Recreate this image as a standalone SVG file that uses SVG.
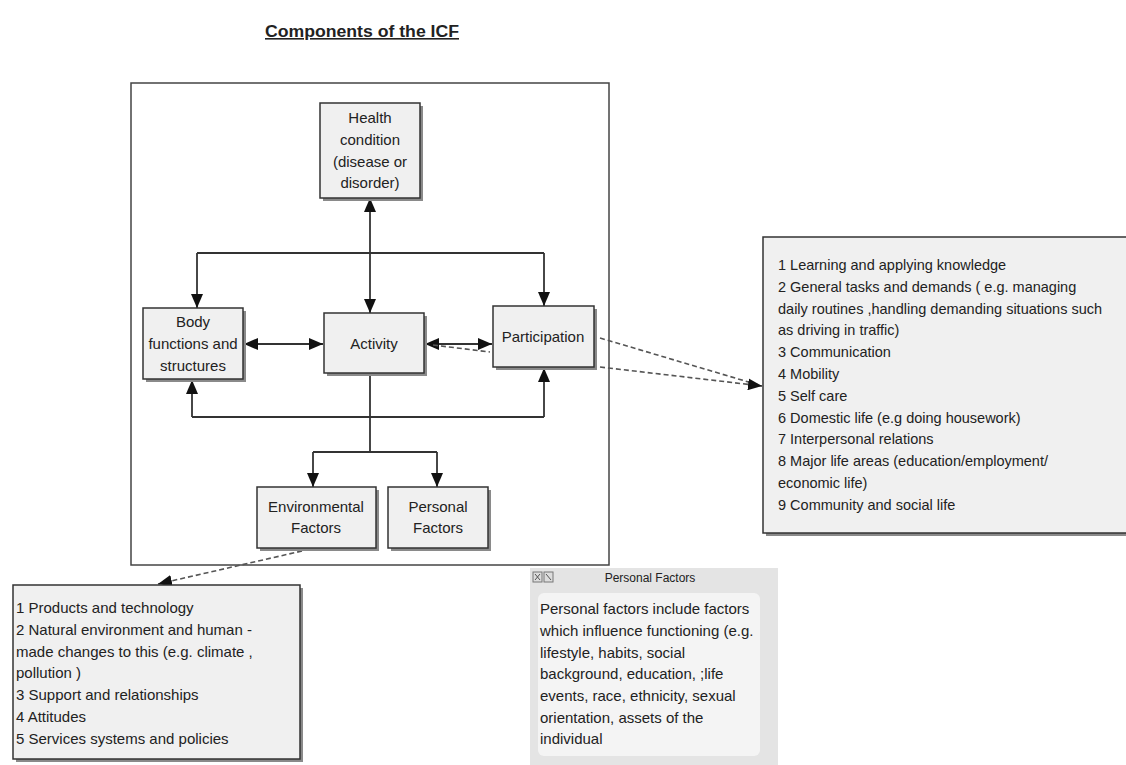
<svg xmlns="http://www.w3.org/2000/svg" width="1126" height="765" viewBox="0 0 1126 765">
<style>
.bx{fill:#f0f0f0;stroke:#333;stroke-width:1.5}
.sh{fill:#8a8a8a}
.t{font-family:"Liberation Sans",Arial,sans-serif;font-size:15px;fill:#222}
.c{text-anchor:middle}
.ln{fill:none;stroke:#333;stroke-width:1.8}
.ds{fill:none;stroke:#555;stroke-width:1.6;stroke-dasharray:5,3}
</style>
<defs>
<marker id="ah" viewBox="0 0 14 12" refX="14" refY="6" markerWidth="14" markerHeight="12" markerUnits="userSpaceOnUse" orient="auto-start-reverse">
<path d="M0,0 L14,6 L0,12 z" fill="#111"/>
</marker>
</defs>
<rect width="1126" height="765" fill="#fff"/>
<text x="362" y="37" class="t c" style="font-weight:bold;font-size:16px;text-decoration:underline" textLength="194" lengthAdjust="spacingAndGlyphs">Components of the ICF</text>
<rect id="frame" x="131" y="83" width="478" height="482" fill="#fff" stroke="#444" stroke-width="1.5"/>
<g id="connectors">
<path class="ln" d="M370,198 L370,313" marker-start="url(#ah)" marker-end="url(#ah)"/>
<path class="ln" d="M197,253 L544,253"/>
<path class="ln" d="M197,253 L197,308" marker-end="url(#ah)"/>
<path class="ln" d="M544,253 L544,306" marker-end="url(#ah)"/>
<path class="ln" d="M244,344 L323,344" marker-start="url(#ah)" marker-end="url(#ah)"/>
<path class="ln" d="M425,344 L492,344" marker-start="url(#ah)" marker-end="url(#ah)"/>
<path class="ds" d="M433,345 L490,352"/>
<path class="ln" d="M192,417 L544,417"/>
<path class="ln" d="M192,417 L192,380" marker-end="url(#ah)"/>
<path class="ln" d="M544,417 L544,368" marker-end="url(#ah)"/>
<path class="ln" d="M370,373 L370,452 M313,452 L437,452"/>
<path class="ln" d="M313,452 L313,487" marker-end="url(#ah)"/>
<path class="ln" d="M437,452 L437,487" marker-end="url(#ah)"/>
<path class="ds" d="M600,338 L762,386"/>
<path class="ds" d="M600,367 L762,386" marker-end="url(#ah)"/>
<path class="ds" d="M302,551 L158,584" marker-end="url(#ah)"/>
</g>
<g id="health">
<rect class="sh" x="323" y="106" width="100" height="95"/>
<rect class="bx" x="320" y="103" width="100" height="95"/>
<text class="t c" x="370" y="123">Health</text>
<text class="t c" x="370" y="145">condition</text>
<text class="t c" x="370" y="167">(disease or</text>
<text class="t c" x="370" y="188">disorder)</text>
</g>
<g id="body">
<rect class="sh" x="146" y="311" width="100" height="71"/>
<rect class="bx" x="143" y="308" width="100" height="71"/>
<text class="t c" x="193" y="327">Body</text>
<text class="t c" x="193" y="349">functions and</text>
<text class="t c" x="193" y="371">structures</text>
</g>
<g id="activity">
<rect class="sh" x="327" y="316" width="100" height="60"/>
<rect class="bx" x="324" y="313" width="100" height="60"/>
<text class="t c" x="374" y="349">Activity</text>
</g>
<g id="participation">
<rect class="sh" x="496" y="309" width="101" height="61"/>
<rect class="bx" x="493" y="306" width="101" height="61"/>
<text class="t c" x="543" y="342">Participation</text>
</g>
<g id="environmental">
<rect class="sh" x="260" y="490" width="119" height="61"/>
<rect class="bx" x="257" y="487" width="119" height="61"/>
<text class="t c" x="316" y="512">Environmental</text>
<text class="t c" x="316" y="533">Factors</text>
</g>
<g id="personal">
<rect class="sh" x="391" y="490" width="100" height="61"/>
<rect class="bx" x="388" y="487" width="100" height="61"/>
<text class="t c" x="438" y="512">Personal</text>
<text class="t c" x="438" y="533">Factors</text>
</g>
<g id="participation-list">
<rect class="sh" x="766" y="240" width="370" height="296"/>
<rect class="bx" x="763" y="237" width="370" height="296"/>
<g class="t" style="font-size:14.5px">
<text x="778" y="270">1 Learning and applying knowledge</text>
<text x="778" y="292">2 General tasks and  demands ( e.g. managing</text>
<text x="778" y="314">daily routines ,handling demanding situations such</text>
<text x="778" y="335">as driving in traffic)</text>
<text x="778" y="357">3 Communication</text>
<text x="778" y="379">4 Mobility</text>
<text x="778" y="401">5 Self care</text>
<text x="778" y="423">6 Domestic life (e.g  doing housework)</text>
<text x="778" y="444">7 Interpersonal relations</text>
<text x="778" y="466">8 Major life areas (education/employment/</text>
<text x="778" y="488">economic life)</text>
<text x="778" y="510">9 Community and social life</text>
</g>
</g>
<g id="environmental-list">
<rect class="sh" x="16" y="588" width="287" height="174"/>
<rect class="bx" x="13" y="585" width="287" height="174"/>
<g class="t">
<text x="16" y="613">1 Products and technology</text>
<text x="16" y="635">2 Natural environment and  human -</text>
<text x="16" y="657">made changes to this  (e.g. climate ,</text>
<text x="16" y="678">pollution )</text>
<text x="16" y="700">3 Support and relationships</text>
<text x="16" y="722">4 Attitudes</text>
<text x="16" y="744">5 Services systems and policies</text>
</g>
</g>
<g id="personal-note">
<rect x="530" y="568" width="248" height="197" fill="#e4e4e4"/>
<rect x="533" y="572" width="9" height="10" fill="#ddd" stroke="#777" stroke-width="1"/>
<path d="M535,574 L540,580 M540,574 L535,580" stroke="#555" stroke-width="1"/>
<rect x="544" y="572" width="9" height="10" fill="#ddd" stroke="#777" stroke-width="1"/>
<path d="M546,574 L551,580" stroke="#555" stroke-width="1"/>
<text class="t c" x="650" y="582" style="font-size:12px">Personal Factors</text>
<rect x="538" y="593" width="222" height="163" rx="6" fill="#f4f4f4"/>
<g class="t">
<text x="540" y="614">Personal factors include factors</text>
<text x="540" y="636">which influence functioning (e.g.</text>
<text x="540" y="658">lifestyle, habits, social</text>
<text x="540" y="679">background, education, ;life</text>
<text x="540" y="701">events, race, ethnicity, sexual</text>
<text x="540" y="723">orientation, assets of the</text>
<text x="540" y="744">individual</text>
</g>
</g>
</svg>
